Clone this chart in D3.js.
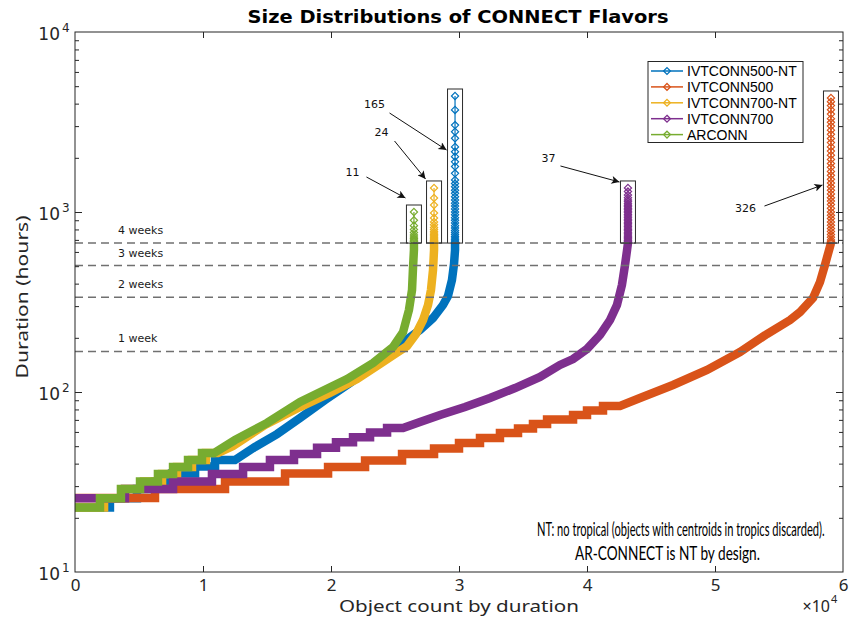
<!DOCTYPE html>
<html>
<head>
<meta charset="utf-8">
<script src="https://cdn.jsdelivr.net/npm/d3@7"></script>
<style>
  body { margin: 0; background: #ffffff; }
  svg { display: block; }
</style>
</head>
<body>
<svg id="chart" width="851" height="621"></svg>
<script>
// ---------------- data ----------------
const seriesNames  = ["IVTCONN500-NT", "IVTCONN500", "IVTCONN700-NT", "IVTCONN700", "ARCONN"];
const seriesColors = ["#0072BD", "#D95319", "#EDB120", "#7E2F8E", "#77AC30"];

const xTickValues = [0, 10000, 20000, 30000, 40000, 50000, 60000];
const xTickLabels = ["0", "1", "2", "3", "4", "5", "6"];
const yTickValues = [10, 100, 1000, 10000];
const yTickExponents = ["1", "2", "3", "4"];

const weekHours  = [168, 336, 504, 672];
const weekLabels = ["1 week", "2 weeks", "3 weeks", "4 weeks"];

// IVTCONN500-NT
const blueStepHours  = [22.8, 25.7, 28.9, 31.8, 35.3, 38.5, 41.9];
const blueStepEnds   = [2730, 4840, 6250, 7580, 9380, 10940, 12500];
const blueTailCounts = [14060, 15780, 17580, 19530, 21480, 23280, 24610, 25780, 26950, 27970, 28750, 29140, 29450, 29610, 29690, 29690];
const blueTailHours  = [49.5, 58.4, 71.7, 90.3, 112.2, 139.4, 166.8, 192.0, 221.0, 257.7, 304.3, 341.5, 418.9, 514.1, 615, 672];
const blueTopHours   = [4410, 3690, 3040, 2790, 2570, 2300, 2160, 2030, 1900, 1790, 1640, 1506, 1440, 1382, 1320, 1270, 1215, 1166, 1120, 1080, 1040, 1000, 965, 930, 900, 870, 840, 815, 790, 770, 750, 732, 716, 702, 690, 680, 674];

// IVTCONN500
const orangeStepHours  = [25.8, 28.9, 31.8, 35.3, 38.3, 41.6, 45.2, 48.6, 52.1, 55.5, 59.2, 62.7, 66.4, 70.3, 74.5, 78.9, 83.6];
const orangeStepEnds   = [6250, 11720, 16410, 19770, 22660, 25550, 28050, 30000, 31640, 33200, 34610, 35780, 36880, 38910, 40000, 41250, 42580];
const orangeTailCounts = [44140, 46720, 49380, 51950, 54060, 55860, 56640, 57660, 58200, 58590, 58910, 59060];
const orangeTailHours  = [92.6, 109.4, 132.6, 166.8, 210, 251, 278, 333, 408, 508, 615, 672];
const orangeTopHours   = [4300, 4100, 3900, 3700, 3500, 3300, 3150, 3000, 2850, 2700, 2560, 2430, 2300, 2180, 2070, 1960, 1860, 1770, 1680, 1600, 1520, 1450, 1380, 1320, 1260, 1200, 1150, 1100, 1050, 1000, 960, 920, 880, 845, 810, 780, 750, 725, 700, 685, 675];

// IVTCONN700-NT
const yellowStepHours  = [22.8, 25.7, 28.9, 31.8, 35.0, 38.3, 41.9, 45.8];
const yellowStepEnds   = [2270, 3900, 5390, 6800, 7970, 9140, 10230, 11170];
const yellowTailCounts = [12340, 14840, 17580, 19920, 22030, 23830, 25000, 25940, 26640, 27190, 27580, 27810, 27970, 28050, 28050];
const yellowTailHours  = [50.1, 65.6, 82.5, 98.7, 118.1, 143.0, 162.6, 180.1, 210.0, 251.2, 304.3, 368.7, 476.2, 615, 672];
const yellowTopHours   = [1360, 1196, 1094, 987, 926, 880, 850, 820, 800, 780, 765, 750, 738, 726, 716, 708, 700, 694, 688, 684, 680, 677, 675, 673];

// IVTCONN700
const purpleStepHours  = [25.7, 28.9, 31.8, 35.0, 38.3, 41.9, 45.3, 49.0, 52.5, 56.0, 59.5, 63.0];
const purpleStepEnds   = [3910, 7660, 10700, 13130, 15230, 17110, 18910, 20390, 21720, 23050, 24380, 25630];
const purpleTailCounts = [26950, 28520, 30470, 32420, 34380, 36330, 37890, 38910, 40000, 41020, 41800, 42340, 42730, 42970, 43130, 43200];
const purpleTailHours  = [68.1, 74.5, 82.5, 92.6, 105.2, 121.2, 141.3, 152.5, 173.3, 207.4, 251.2, 304.3, 393.0, 507.7, 615, 672];
const purpleTopHours   = [1360, 1300, 1243, 1200, 1166, 1140, 1112, 1090, 1070, 1050, 1030, 1010, 990, 970, 950, 930, 912, 895, 878, 862, 846, 830, 815, 800, 786, 772, 758, 745, 733, 721, 710, 700, 692, 685, 680, 676, 673];

// ARCONN
const greenStepHours  = [22.8, 25.7, 28.9, 31.8, 35.0, 38.3, 41.9, 45.8];
const greenStepEnds   = [1950, 3590, 5080, 6480, 7660, 8830, 9920, 10860];
const greenTailCounts = [12500, 15000, 17580, 21250, 23280, 24840, 25630, 26090, 26330, 26410, 26480, 26480];
const greenTailHours  = [54.1, 67.3, 88.0, 118.1, 144.9, 177.8, 215.4, 285.5, 368.7, 494.8, 615, 672];
const greenTopHours   = [685, 690, 700, 712, 726, 745, 770, 800, 840, 900, 1000];

// objects lasting longer than four weeks, and where each callout arrow points
const calloutLabels   = ["165", "326", "24", "37", "11"];
const calloutTipHours = [2210, 1412, 1525, 1468, 1196];

const noteLines = [
  "NT: no tropical (objects with centroids in tropics discarded).",
  "AR-CONNECT is NT by design."
];

// ---------------- assemble series ----------------
const stepHours  = [blueStepHours, orangeStepHours, yellowStepHours, purpleStepHours, greenStepHours];
const stepEnds   = [blueStepEnds, orangeStepEnds, yellowStepEnds, purpleStepEnds, greenStepEnds];
const tailCounts = [blueTailCounts, orangeTailCounts, yellowTailCounts, purpleTailCounts, greenTailCounts];
const tailHours  = [blueTailHours, orangeTailHours, yellowTailHours, purpleTailHours, greenTailHours];
const topHours   = [blueTopHours, orangeTopHours, yellowTopHours, purpleTopHours, greenTopHours];

function buildPoints(sh, se, tc, th) {
  const pts = [[0, sh[0]]];
  sh.forEach((h, i) => {
    pts.push([se[i], h]);
    if (i + 1 < sh.length) pts.push([se[i], sh[i + 1]]);
  });
  tc.forEach((c, i) => pts.push([c, th[i]]));
  return pts;
}

const series = seriesNames.map((name, i) => ({
  name,
  color: seriesColors[i],
  points: buildPoints(stepHours[i], stepEnds[i], tailCounts[i], tailHours[i]),
  lastCount: tailCounts[i][tailCounts[i].length - 1],
  top: topHours[i],
  label: calloutLabels[i],
  tip: calloutTipHours[i]
}));

// ---------------- layout ----------------
const svg = d3.select("#chart");
const plot = { left: 75, right: 843, top: 32, bottom: 572 };
const axisColor = "#262626";

const x = d3.scaleLinear().domain([0, 60000]).range([plot.left, plot.right]);
const y = d3.scaleLog().domain([10, 10000]).range([plot.bottom, plot.top]);

svg.append("rect").attr("width", 851).attr("height", 621).attr("fill", "#ffffff");

const defs = svg.append("defs");
defs.append("clipPath").attr("id", "plotClip")
  .append("rect")
  .attr("x", plot.left).attr("y", plot.top)
  .attr("width", plot.right - plot.left).attr("height", plot.bottom - plot.top);

// squeeze a text horizontally so that it spans the given width
function fitText(sel, width) {
  const natural = sel.node().getComputedTextLength();
  const k = natural > 0 ? width / natural : 1;
  const tx = +sel.attr("data-x"), ty = +sel.attr("data-y");
  sel.attr("transform", `translate(${tx},${ty}) scale(${k},1)`);
}

// ---------------- curves ----------------
const line = d3.line().x(d => x(d[0])).y(d => y(d[1]));
const curves = svg.append("g").attr("clip-path", "url(#plotClip)");
series.forEach(s => {
  curves.append("path")
    .datum(s.points)
    .attr("d", line)
    .attr("fill", "none")
    .attr("stroke", s.color)
    .attr("stroke-width", 8.5)
    .attr("stroke-linejoin", "miter")
    .attr("stroke-linecap", "butt");
});

// ---------------- four-week tails ----------------
const diamond = r => `M0,${-r}L${r},0L0,${r}L${-r},0Z`;
series.forEach(s => {
  const cx = x(s.lastCount);
  const g = svg.append("g");
  g.append("line")
    .attr("x1", cx).attr("x2", cx)
    .attr("y1", y(672)).attr("y2", y(d3.max(s.top)))
    .attr("stroke", s.color).attr("stroke-width", 1.2);
  g.selectAll("path").data(s.top).join("path")
    .attr("d", diamond(3.6))
    .attr("transform", d => `translate(${cx},${y(d)})`)
    .attr("fill", "none")
    .attr("stroke", s.color)
    .attr("stroke-width", 1.2);
});

// ---------------- week reference lines ----------------
const weeks = svg.append("g");
weekHours.forEach((h, i) => {
  weeks.append("line")
    .attr("x1", plot.left).attr("x2", plot.right)
    .attr("y1", y(h)).attr("y2", y(h))
    .attr("stroke", "#707070")
    .attr("stroke-width", 1.6)
    .attr("stroke-dasharray", "8,5");
  weeks.append("text")
    .attr("x", plot.left + 43)
    .attr("y", y(h) - 9)
    .attr("font-family", "DejaVu Sans")
    .attr("font-size", 11)
    .attr("fill", "#1a1a1a")
    .text(weekLabels[i]);
});

// ---------------- callout boxes and arrows ----------------
defs.append("marker")
  .attr("id", "arrowHead")
  .attr("viewBox", "0 0 10 10")
  .attr("refX", 10).attr("refY", 5)
  .attr("markerWidth", 11).attr("markerHeight", 8)
  .attr("markerUnits", "userSpaceOnUse")
  .attr("orient", "auto")
  .append("path").attr("d", "M0,0L10,5L0,10L2.5,5Z").attr("fill", "#111");

// text and tail offsets of each callout, relative to its arrow tip
const calloutOffsets = [
  { tx: -72, ty: -42, sx: -57, sy: -37 },
  { tx: -77, ty: 27,  sx: -58, sy: 21 },
  { tx: -44, ty: -43, sx: -31, sy: -38 },
  { tx: -71, ty: -20, sx: -59, sy: -16 },
  { tx: -53, ty: -22, sx: -39, sy: -21 }
];

const callouts = svg.append("g");
series.forEach((s, i) => {
  const cx = x(s.lastCount);
  const half = 7.5;
  const yTop = y(d3.max(s.top)) - 7;
  const yBot = y(672);
  callouts.append("rect")
    .attr("x", cx - half).attr("y", yTop)
    .attr("width", half * 2).attr("height", yBot - yTop)
    .attr("fill", "none")
    .attr("stroke", "#2b2b2b")
    .attr("stroke-width", 1);
  const tipX = cx - half - 1;
  const tipY = y(s.tip);
  const o = calloutOffsets[i];
  callouts.append("line")
    .attr("x1", tipX + o.sx).attr("y1", tipY + o.sy)
    .attr("x2", tipX).attr("y2", tipY)
    .attr("stroke", "#111").attr("stroke-width", 1)
    .attr("marker-end", "url(#arrowHead)");
  callouts.append("text")
    .attr("x", tipX + o.tx).attr("y", tipY + o.ty)
    .attr("text-anchor", "middle")
    .attr("font-family", "DejaVu Sans")
    .attr("font-size", 11)
    .attr("fill", "#111")
    .text(s.label);
});

// ---------------- axes ----------------
svg.append("rect")
  .attr("x", plot.left).attr("y", plot.top)
  .attr("width", plot.right - plot.left).attr("height", plot.bottom - plot.top)
  .attr("fill", "none").attr("stroke", axisColor).attr("stroke-width", 1);

function styleAxis(g) {
  g.select(".domain").remove();
  g.selectAll(".tick line").attr("stroke", axisColor).attr("stroke-width", 1);
}

const innerX = xTickValues.slice(1, -1);
svg.append("g")
  .attr("transform", `translate(0,${plot.bottom})`)
  .call(d3.axisBottom(x).tickValues(xTickValues).tickSizeInner(-6).tickSizeOuter(0)
    .tickPadding(7).tickFormat((d, i) => xTickLabels[i]))
  .call(styleAxis)
  .call(g => g.selectAll(".tick text")
    .attr("font-family", "Noto Sans")
    .attr("font-size", 17)
    .attr("fill", axisColor))
  .call(g => g.selectAll(".tick line").filter(d => !innerX.includes(d)).remove());

svg.append("g")
  .attr("transform", `translate(0,${plot.top})`)
  .call(d3.axisTop(x).tickValues(innerX).tickSizeInner(-6).tickSizeOuter(0).tickFormat(""))
  .call(styleAxis);

const minorY = y.ticks().filter(v => !yTickValues.includes(v));
[[d3.axisLeft, plot.left], [d3.axisRight, plot.right]].forEach(([axisFn, pos]) => {
  svg.append("g")
    .attr("transform", `translate(${pos},0)`)
    .call(axisFn(y).tickValues(yTickValues.slice(1, -1)).tickSizeInner(-7).tickSizeOuter(0).tickFormat(""))
    .call(styleAxis);
  svg.append("g")
    .attr("transform", `translate(${pos},0)`)
    .call(axisFn(y).tickValues(minorY).tickSizeInner(-4).tickSizeOuter(0).tickFormat(""))
    .call(styleAxis);
});

// y tick labels as powers of ten
const yLabels = svg.append("g").attr("fill", axisColor).attr("font-family", "DejaVu Sans");
yTickValues.forEach((v, i) => {
  yLabels.append("text")
    .attr("x", 60).attr("y", y(v) + 7.5)
    .attr("text-anchor", "end")
    .attr("font-size", 17)
    .text("10");
  yLabels.append("text")
    .attr("x", 62).attr("y", y(v) - 0.5)
    .attr("font-size", 12)
    .text(yTickExponents[i]);
});

// x exponent marker
const xExp = svg.append("g").attr("fill", axisColor).attr("font-family", "Noto Sans");
xExp.append("text").attr("x", 830).attr("y", 612).attr("text-anchor", "end").attr("font-size", 16).text("\u00d710");
xExp.append("text").attr("x", 831).attr("y", 603).attr("font-size", 11).text("4");

// ---------------- titles ----------------
svg.append("text")
  .attr("x", 458).attr("y", 23)
  .attr("text-anchor", "middle")
  .attr("font-family", "DejaVu Sans")
  .attr("font-weight", "bold")
  .attr("font-size", 18)
  .attr("textLength", 421).attr("lengthAdjust", "spacingAndGlyphs")
  .attr("fill", "#000")
  .text("Size Distributions of CONNECT Flavors");

svg.append("text")
  .attr("x", 459).attr("y", 612)
  .attr("text-anchor", "middle")
  .attr("font-family", "Noto Sans")
  .attr("font-size", 17)
  .attr("textLength", 240).attr("lengthAdjust", "spacingAndGlyphs")
  .attr("fill", axisColor)
  .text("Object count by duration");

svg.append("text")
  .attr("transform", "translate(28,297) rotate(-90)")
  .attr("text-anchor", "middle")
  .attr("font-family", "Noto Sans")
  .attr("font-size", 17)
  .attr("textLength", 163).attr("lengthAdjust", "spacingAndGlyphs")
  .attr("fill", axisColor)
  .text("Duration (hours)");

// ---------------- note ----------------
const note = svg.append("g").attr("font-family", "Lato").attr("font-size", 18.5).attr("fill", "#000");
const note1 = note.append("text")
  .attr("data-x", 537).attr("data-y", 536)
  .text(noteLines[0]);
fitText(note1, 288);
const note2 = note.append("text")
  .attr("data-x", 575).attr("data-y", 560)
  .text(noteLines[1]);
fitText(note2, 185);

// ---------------- legend ----------------
const legend = svg.append("g");
legend.append("rect")
  .attr("x", 648).attr("y", 61.5)
  .attr("width", 155).attr("height", 81)
  .attr("fill", "#ffffff")
  .attr("stroke", axisColor).attr("stroke-width", 1);
series.forEach((s, i) => {
  const ly = 71 + i * 15.9;
  legend.append("line")
    .attr("x1", 651).attr("x2", 683)
    .attr("y1", ly).attr("y2", ly)
    .attr("stroke", s.color).attr("stroke-width", 1.5);
  legend.append("path")
    .attr("d", diamond(3.4))
    .attr("transform", `translate(667,${ly})`)
    .attr("fill", "none").attr("stroke", s.color).attr("stroke-width", 1.3);
  legend.append("text")
    .attr("x", 687).attr("y", ly)
    .attr("dy", "0.36em")
    .attr("font-family", "Liberation Sans")
    .attr("font-size", 14)
    .attr("fill", "#000")
    .text(s.name);
});
</script>
</body>
</html>
